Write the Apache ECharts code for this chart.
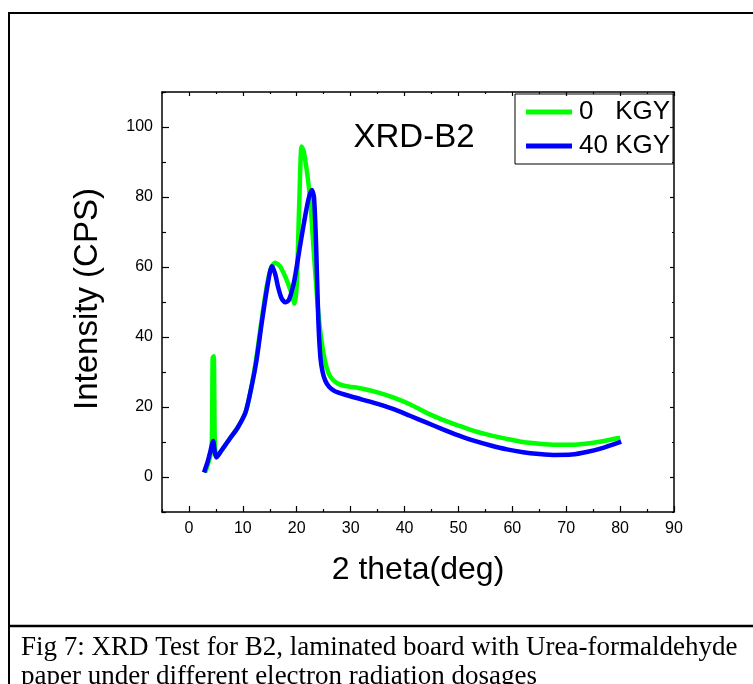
<!DOCTYPE html>
<html>
<head>
<meta charset="utf-8">
<script src="https://cdn.jsdelivr.net/npm/echarts@6/dist/echarts.min.js"></script>
<style>
html,body{margin:0;padding:0;background:#fff;}
#chart{width:753px;height:684px;}
</style>
</head>
<body>
<div id="chart"></div>
<script>
// ---- data ----
var seriesNames = ['0   KGY', '40 KGY'];
var x0 = [3.0, 3.6, 4.2, 4.4, 4.6, 4.8, 5.1, 6.0, 7.5, 9.0, 10.5, 11.5, 12.5, 13.5, 14.5, 15.3, 16.0, 16.9, 18.1, 19.0, 19.6, 20.0, 20.5, 20.9, 21.3, 22.0, 22.5, 23.0, 23.5, 24.0, 24.5, 25.0, 25.6, 26.3, 27.5, 29, 32, 35, 38, 41, 44, 47, 50, 53, 56, 59, 62, 65, 68, 71, 74, 77, 80];
var y0 = [1.3, 4, 8, 34, 34.5, 10, 6, 7.5, 10.8, 14, 18.5, 25, 34, 45, 55, 60, 61.2, 60.2, 56.4, 52.6, 49.5, 55, 80, 94.4, 93, 86, 79, 68, 57, 47, 40, 35, 31, 28.5, 26.8, 26, 25.3, 24.2, 22.7, 20.8, 18.4, 16.4, 14.7, 13.1, 11.9, 10.9, 10, 9.5, 9.2, 9.2, 9.6, 10.3, 11.2];
var x40 = [2.8, 3.5, 4.0, 4.5, 4.8, 5.1, 6.0, 7.5, 9.0, 10.5, 11.5, 12.5, 13.5, 14.5, 15.4, 16.0, 16.5, 17.2, 17.9, 18.5, 19.0, 19.6, 20.6, 21.5, 22.2, 22.8, 23.2, 23.6, 24.0, 24.4, 24.8, 25.3, 26.0, 27, 29, 32, 35, 38, 41, 44, 47, 50, 53, 56, 59, 62, 65, 68, 71, 74, 77, 80.2];
var y40 = [1.3, 4.5, 7.5, 10.3, 7, 5.6, 7.5, 10.8, 14, 18.5, 25, 33, 44, 54, 60.2, 58, 54.5, 51, 49.9, 50.5, 52.6, 56.5, 65.9, 74, 79.5, 82, 80, 66, 45, 34, 30, 27.5, 25.8, 24.6, 23.5, 22.2, 20.9, 19.4, 17.5, 15.6, 13.7, 11.9, 10.3, 9, 7.9, 7.1, 6.6, 6.3, 6.4, 7.2, 8.4, 10.1];
var xMajor = [0, 10, 20, 30, 40, 50, 60, 70, 80, 90];
var xMinor = [-5, 5, 15, 25, 35, 45, 55, 65, 75, 85];
var yMajor = [0, 20, 40, 60, 80, 100];
var yMinor = [-10, 10, 30, 50, 70, 90, 110];
var captionLines = ['Fig 7: XRD Test for B2, laminated board with Urea-formaldehyde', 'paper under different electron radiation dosages'];

function zip(a, b) { return a.map(function (v, i) { return [v, b[i]]; }); }

var chart = echarts.init(document.getElementById('chart'));
var axisLineStyle = { color: '#000', width: 1.5 };
function mkX(pos, ticks, len, labels, line) {
  return {
    type: 'value', min: -5, max: 90, position: pos,
    axisLine: { show: line, onZero: false, lineStyle: axisLineStyle },
    axisTick: { show: true, inside: true, length: len, customValues: ticks, lineStyle: { color: '#000', width: 1.2 } },
    axisLabel: labels ? { show: true, customValues: ticks, color: '#000', fontSize: 16, fontFamily: 'Liberation Sans', margin: 9 } : { show: false },
    splitLine: { show: false }
  };
}
function mkY(pos, ticks, len, labels, line) {
  return {
    type: 'value', min: -10, max: 110, position: pos,
    axisLine: { show: line, onZero: false, lineStyle: axisLineStyle },
    axisTick: { show: true, inside: true, length: len, customValues: ticks, lineStyle: { color: '#000', width: 1.2 } },
    axisLabel: labels ? { show: true, customValues: ticks, color: '#000', fontSize: 16, fontFamily: 'Liberation Sans', margin: 9 } : { show: false },
    splitLine: { show: false }
  };
}

var option = {
  backgroundColor: '#fff',
  animation: false,
  grid: { left: 162, top: 92, width: 512, height: 420, containLabel: false },
  xAxis: [
    mkX('bottom', xMajor, 6, true, true),
    mkX('bottom', xMinor, 3, false, false),
    mkX('top', xMajor, 4, false, true),
    mkX('top', xMinor, 2, false, false)
  ],
  yAxis: [
    mkY('left', yMajor, 7, true, true),
    mkY('left', yMinor, 4, false, false),
    mkY('right', yMajor, 4, false, true),
    mkY('right', yMinor, 2, false, false)
  ],
  legend: {
    orient: 'vertical', left: 515, top: 94,
    data: seriesNames,
    icon: 'rect', itemWidth: 46, itemHeight: 5, itemGap: 6,
    padding: [4, 3, 4, 11],
    borderColor: '#000', borderWidth: 1,
    textStyle: { color: '#000', fontSize: 26, fontFamily: 'Liberation Sans', lineHeight: 28, padding: [0, 0, 0, 2] }
  },
  series: [
    { name: seriesNames[0], type: 'line', data: zip(x0, y0), showSymbol: false, smooth: 0.25,
      lineStyle: { color: '#00ff00', width: 4.5 }, itemStyle: { color: '#00ff00' }, z: 2 },
    { name: seriesNames[1], type: 'line', data: zip(x40, y40), showSymbol: false, smooth: 0.25,
      lineStyle: { color: '#0000ff', width: 4.5 }, itemStyle: { color: '#0000ff' }, z: 3 }
  ],
  graphic: [
    { type: 'rect', shape: { x: 9, y: 13, width: 760, height: 700 }, style: { fill: 'none', stroke: '#000', lineWidth: 2 }, silent: true },
    { type: 'line', shape: { x1: 9, y1: 626, x2: 753, y2: 626 }, style: { stroke: '#000', lineWidth: 2.5 }, silent: true },
    { type: 'text', x: 414, y: 138, style: { text: 'XRD-B2', fontSize: 33, fontFamily: 'Liberation Sans', fill: '#000', align: 'center', verticalAlign: 'middle' } },
    { type: 'text', x: 418, y: 570, style: { text: '2 theta(deg)', fontSize: 32, fontFamily: 'Liberation Sans', fill: '#000', align: 'center', verticalAlign: 'middle' } },
    { type: 'text', x: 88, y: 299, rotation: Math.PI / 2, style: { text: 'Intensity (CPS)', fontSize: 33, fontFamily: 'Liberation Sans', fill: '#000', align: 'center', verticalAlign: 'middle' } },
    { type: 'text', x: 21, y: 648, style: { text: captionLines[0], fontSize: 27, fontFamily: 'Liberation Serif', fill: '#000', align: 'left', verticalAlign: 'middle' } },
    { type: 'text', x: 21, y: 677, style: { text: captionLines[1], fontSize: 27, fontFamily: 'Liberation Serif', fill: '#000', align: 'left', verticalAlign: 'middle' } }
  ]
};
chart.setOption(option);
</script>
</body>
</html>
